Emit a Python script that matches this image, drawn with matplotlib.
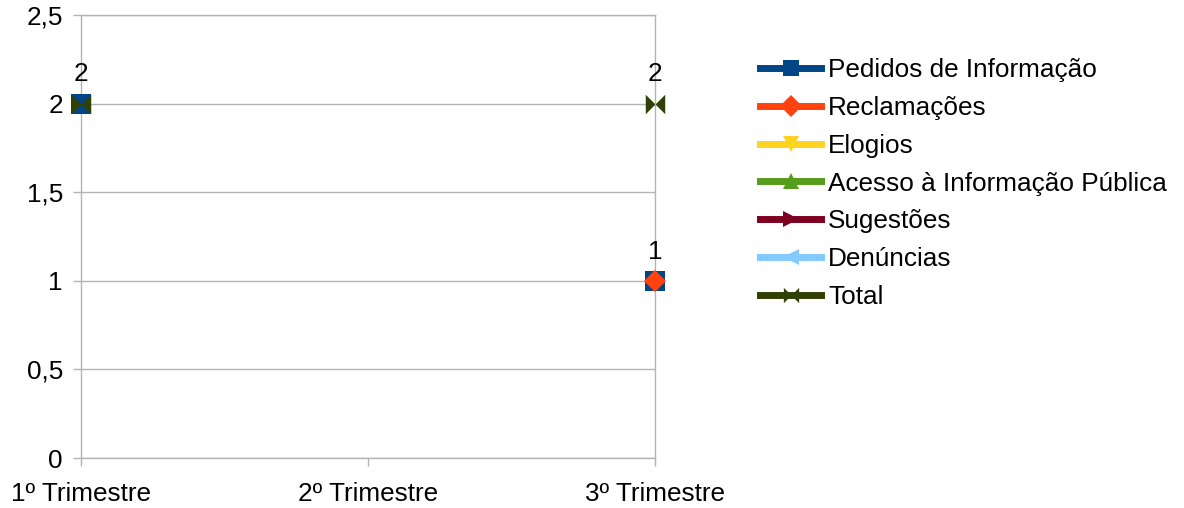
import numpy as np
import matplotlib
matplotlib.use("Agg")
import matplotlib.pyplot as plt
from matplotlib.path import Path
from matplotlib.lines import Line2D

plt.rcParams['font.family'] = ['Liberation Sans', 'DejaVu Sans']

categories = ["1º Trimestre", "2º Trimestre", "3º Trimestre"]
series_names = ["Pedidos de Informação", "Reclamações", "Elogios",
                "Acesso à Informação Pública", "Sugestões", "Denúncias", "Total"]
pedidos = [2, np.nan, 1]
reclamacoes = [np.nan, np.nan, 1]
elogios = [np.nan, np.nan, np.nan]
acesso = [np.nan, np.nan, np.nan]
sugestoes = [np.nan, np.nan, np.nan]
denuncias = [np.nan, np.nan, np.nan]
total = [2, np.nan, 2]
yticks = [0, 0.5, 1, 1.5, 2, 2.5]
ytick_labels = ["0", "0,5", "1", "1,5", "2", "2,5"]

colors = ["#004586", "#ff420e", "#ffd320", "#579d1c", "#7e0021", "#83caff", "#314004"]
bowtie = Path([(-1, -1), (0, 0), (-1, 1), (-1, -1), (1, -1), (0, 0), (1, 1), (1, -1)],
              [Path.MOVETO, Path.LINETO, Path.LINETO, Path.CLOSEPOLY,
               Path.MOVETO, Path.LINETO, Path.LINETO, Path.CLOSEPOLY])
markers = ["s", "D", "v", "^", ">", "<", bowtie]
msizes = [14, 11, 14, 14, 14, 14, 14]

all_series = [pedidos, reclamacoes, elogios, acesso, sugestoes, denuncias, total]

fs = 18.8
fig = plt.figure(figsize=(11.84, 5.08), dpi=100)
ax = fig.add_axes([81/1184, 1 - 458/508, (655 - 81)/1184, (458 - 15)/508])

x = np.arange(len(categories))
labelled = set()
for vals, c, m, ms in zip(all_series, colors, markers, msizes):
    ax.plot(x, vals, color=c, lw=3.5, marker=m, markersize=ms,
            markeredgewidth=0, zorder=3, clip_on=False)
    for xi, v in zip(x, vals):
        if not np.isnan(v) and (xi, v) not in labelled:
            labelled.add((xi, v))
            ax.annotate(f"{v:g}", (xi, v), xytext=(0, 21), textcoords="offset points",
                        ha="center", va="center", fontsize=fs, color="black", zorder=4)

ax.set_xlim(0, 2)
ax.set_ylim(0, 2.5)
ax.set_yticks(yticks)
ax.set_yticklabels(ytick_labels)
ax.set_xticks(x)
ax.set_xticklabels(categories)
ax.grid(axis="y", color="#b3b3b3", lw=1)
for s in ax.spines.values():
    s.set_color("#b3b3b3")
    s.set_linewidth(1)
ax.tick_params(axis="both", colors="#b3b3b3", labelcolor="black", labelsize=fs,
               length=6, width=1)
ax.tick_params(axis="x", pad=11)
ax.tick_params(axis="y", pad=7)
ax.set_axisbelow(True)

handles = [Line2D([], [], color=c, lw=5, marker=m, markersize=11, markeredgewidth=0)
           for c, m in zip(colors, markers)]
fig.legend(handles, series_names, loc="upper left", bbox_to_anchor=(760/1184, 1 - 58/508),
           frameon=False, fontsize=fs, handlelength=2.35, handletextpad=0.25,
           labelspacing=0.53, borderaxespad=0, borderpad=0)

fig.savefig("out.png", dpi=100)
